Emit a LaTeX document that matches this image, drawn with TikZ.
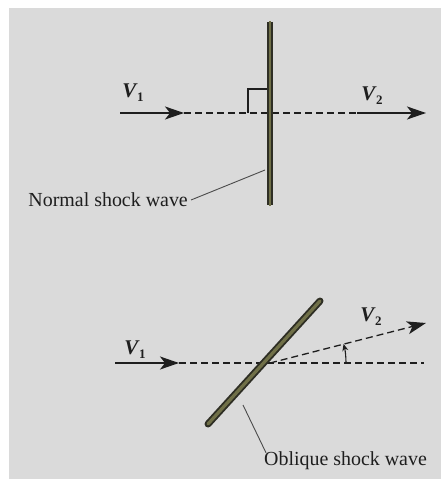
\documentclass[tikz,border=0pt]{standalone}
\usepackage{fontspec}
\setmainfont{Liberation Serif}
\usetikzlibrary{arrows.meta}
\definecolor{bg}{HTML}{DADADA}
\definecolor{ink}{HTML}{1E1E1E}
\definecolor{shockdark}{HTML}{2E2E24}
\definecolor{shockfill}{HTML}{707048}
\tikzset{
  lab/.style={text=ink, font=\fontsize{20}{24}\selectfont, inner sep=0pt},
  vlab/.style={text=ink, font=\fontsize{21}{24}\selectfont\bfseries, inner sep=0pt},
  flow/.style={draw=ink, line width=1.5bp},
  dashline/.style={draw=ink, line width=1.3bp, dash pattern=on 7bp off 4bp},
  tiphead/.style={-{Stealth[length=19bp,width=13bp,inset=5bp]}},
  leader/.style={draw=ink!80, line width=0.9bp},
}
\newcommand{\vel}[1]{\textit{V}\kern-0.5bp\raisebox{-4bp}{\fontsize{13}{13}\selectfont #1}}
\begin{document}
\begin{tikzpicture}[x=1bp,y=-1bp]
\useasboundingbox (0,0) rectangle (443,479);
\fill[bg] (9,8) rectangle (441,479);

% ---- normal shock ----
\coordinate (ntop) at (270,22);
\coordinate (nbot) at (270,205);
\coordinate (nin) at (120,113);
\coordinate (nt1) at (184,113);
\coordinate (nd2) at (357,113);
\coordinate (nout) at (426,113);
\coordinate (nsq1) at (248,113);
\coordinate (nsq2) at (248,89);
\coordinate (nsq3) at (270,89);
\coordinate (nlead) at (265,170);

\draw[flow, tiphead] (nin) -- (nt1);
\draw[dashline] (nt1) -- (nd2);
\draw[flow, tiphead] (nd2) -- (nout);
\draw[flow, line width=1.3bp] (nsq1) -- (nsq2) -- (nsq3);
\draw[line width=6bp, shockdark] (ntop) -- (nbot);
\draw[line width=2.4bp, shockfill] ([yshift=1bp]ntop) -- ([yshift=-1bp]nbot);

\node[vlab] (v1a) at (133,93) {\vel{1}};
\node[vlab] (v2a) at (372,96) {\vel{2}};
\node[lab, anchor=east] (nlab) at (188,200) {Normal shock wave};
\draw[leader] ([xshift=3bp]nlab.east) -- (nlead);

% ---- oblique shock ----
\coordinate (oa) at (208,424);
\coordinate (ob) at (320,301);
\coordinate (oin) at (115,363);
\coordinate (ot1) at (179,363);
\coordinate (oc) at (270,363);
\coordinate (oend) at (424,363);
\coordinate (oout) at (426,323);
\coordinate (olead) at (243,405);

\draw[flow, tiphead] (oin) -- (ot1);
\draw[dashline] (ot1) -- (oend);
\draw[dashline, tiphead] (oc) -- (oout);
\draw[line width=7bp, shockdark, line cap=round] (oa) -- (ob);
\draw[line width=3.2bp, shockfill, line cap=round] (oa) -- (ob);
\draw[flow, line width=1.1bp, -{Stealth[length=7bp,width=6bp]}] (346,363) arc[start angle=0, end angle=-14.5, radius=76];

\node[vlab] (v1b) at (135,350) {\vel{1}};
\node[vlab] (v2b) at (371,317) {\vel{2}};
\node[lab, anchor=west] (olab) at (264,461) {Oblique shock wave};
\draw[leader] (olead) -- ([xshift=2bp,yshift=-1bp]olab.north west);
\end{tikzpicture}
\end{document}
